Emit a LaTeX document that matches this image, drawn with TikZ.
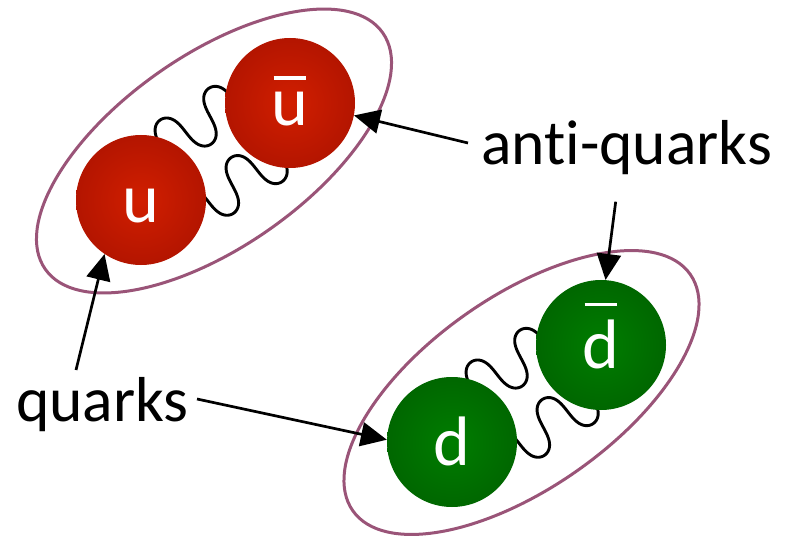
\documentclass[tikz,border=0pt]{standalone}
\usepackage{fontspec}
\setmainfont{Carlito}[Ligatures=NoCommon]
\usetikzlibrary{arrows.meta,shapes.geometric}

% radial shadings for the quark spheres (edge of the circle at 50bp)
\pgfdeclareradialshading{redball}{\pgfpoint{0bp}{0bp}}{rgb(0bp)=(0.82,0.12,0); rgb(26bp)=(0.70,0.08,0); rgb(50bp)=(0.34,0.02,0)}
\pgfdeclareradialshading{greenball}{\pgfpoint{0bp}{0bp}}{rgb(0bp)=(0,0.49,0); rgb(26bp)=(0,0.40,0); rgb(50bp)=(0,0.19,0)}

\definecolor{mesonring}{RGB}{154,84,120}

% letter with a bar above it (anti-quark symbol)
\newcommand\antiq[1]{\setbox0=\hbox{#1}\vbox{\offinterlineskip
  \hbox to\wd0{\hfil\vrule height 3.4bp depth 0pt width \dimexpr\wd0-4bp\relax\hfil}%
  \kern 13bp\box0}}

% two gluon lines between a quark (at the origin) and its partner along the axis
\newcommand\gluonpair[1]{%
  \begin{scope}[shift={(#1)}, rotate=33.06]
    \draw[gluon] plot[domain=0:9.42, samples=160, variable=\t]
      ({45.5+9.231*\t-3.6*sin(2*\t r)}, {-32.6-24*sin(\t r)});
    \draw[gluon] plot[domain=-3.74:6.78, samples=160, variable=\t]
      ({84.5+9.231*\t-3.6*sin(2*\t r)}, {37.6-24*sin(\t r)});
  \end{scope}}

\tikzset{
  quark/.style={circle, minimum size=130bp, inner sep=0pt, shade, text=white,
    font=\fontsize{70bp}{70bp}\selectfont, text height=46bp, text depth=0pt},
  redq/.style={quark, shading=redball},
  greenq/.style={quark, shading=greenball},
  ring/.style={draw=mesonring, line width=3bp, ellipse, minimum width=412bp,
    minimum height=192bp, inner sep=0pt, rotate=35},
  gluon/.style={line width=2.9bp, line join=round, line cap=round},
  tag/.style={font=\fontsize{63.5bp}{63.5bp}\selectfont, inner sep=0pt, anchor=base west},
  pointer/.style={line width=2.7bp, -{Triangle[length=26bp,width=24bp]}},
}

\begin{document}
\begin{tikzpicture}[x=1bp,y=-1bp]
  \useasboundingbox (0,0) rectangle (788,536);

  % meson outlines
  \node[ring] (pionU) at (214,151) {};
  \node[ring] (pionD) at (521.5,392.5) {};

  % gluon exchange
  \gluonpair{141,200}
  \gluonpair{452,442}

  % quarks and anti-quarks
  \node[redq] (u) at (141,200) {u};
  \node[redq] (ubar) at (290,103) {\antiq{u}};
  \node[greenq] (d) at (452,442) {d};
  \node[greenq] (dbar) at (601,345) {\antiq{d}};

  % labels
  \node[tag] (anti) at (481,165) {anti-quarks};
  \node[tag] (quarks) at (16,421) {quarks};

  % arrow tails next to the labels
  \coordinate (a1) at (468,143);
  \coordinate (a2) at (615.7,201.7);
  \coordinate (q1) at (76,370);
  \coordinate (q2) at (197,399);

  \draw[pointer] (a1) -- (ubar.-11);
  \draw[pointer] (a2) -- (dbar.86);
  \draw[pointer] (q1) -- (u.-124);
  \draw[pointer] (q2) -- (d.178);
\end{tikzpicture}
\end{document}
